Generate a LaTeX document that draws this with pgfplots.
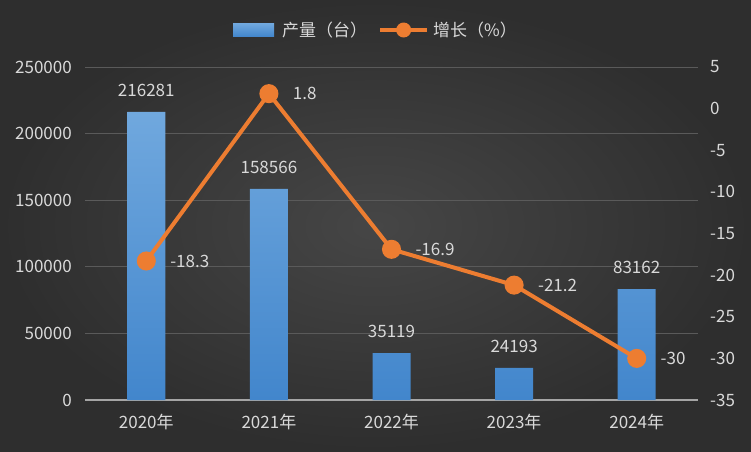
\documentclass[border=0pt]{standalone}
\usepackage{fontspec}
\setmainfont{Noto Sans CJK SC}
\usepackage{pgfplots}
\pgfplotsset{compat=1.18}
\definecolor{txt}{RGB}{217,217,217}
\definecolor{barT}{RGB}{112,168,222}
\definecolor{barB}{RGB}{66,134,204}
\definecolor{orng}{RGB}{237,125,49}
\definecolor{gridc}{RGB}{90,90,90}
\definecolor{axc}{RGB}{165,165,165}
\definecolor{bgin}{RGB}{70,70,70}
\definecolor{bgout}{RGB}{46,46,46}
\begin{document}
\fontsize{17pt}{20pt}\selectfont
\begin{tikzpicture}
\shade[inner color=bgin, outer color=bgout] (0pt,0pt) rectangle (751pt,451pt);
\useasboundingbox (0pt,0pt) rectangle (751pt,451pt);
\begin{axis}[
  at={(85pt,51pt)}, anchor=south west,
  scale only axis, width=613pt, height=333pt,
  xmin=-0.5, xmax=4.5, ymin=0, ymax=250000,
  axis x line*=bottom, axis y line*=left,
  x axis line style={axc, line width=1.5pt},
  y axis line style={draw=none},
  major tick length=0pt,
  xtick={0,1,2,3,4},
  xticklabels={2020年,2021年,2022年,2023年,2024年},
  xticklabel style={text=txt, inner sep=0pt, anchor=north, yshift=-14pt},
  ytick={0,50000,100000,150000,200000,250000},
  scaled y ticks=false,
  yticklabel style={text=txt, inner sep=0pt, anchor=east, xshift=-13pt,
    /pgf/number format/.cd, fixed, 1000 sep={}, assume math mode=true},
  ymajorgrids, grid style={gridc, line width=1pt},
  nodes near coords,
  every node near coord/.append style={text=txt, inner sep=0pt, anchor=south, yshift=15pt,
    /pgf/number format/.cd, fixed, 1000 sep={}, assume math mode=true},
]
\addplot[ybar, bar width=38pt, draw=none, top color=barT, bottom color=barB]
  coordinates {(0,216281) (1,158566) (2,35119) (3,24193) (4,83162)};
\end{axis}
\begin{axis}[
  at={(85pt,51pt)}, anchor=south west,
  scale only axis, width=613pt, height=333pt,
  xmin=-0.5, xmax=4.5, ymin=-35, ymax=5,
  axis x line=none, axis y line*=right,
  y axis line style={draw=none},
  major tick length=0pt,
  ytick={-35,-30,-25,-20,-15,-10,-5,0,5},
  yticklabel style={text=txt, inner sep=0pt, anchor=west, xshift=12pt,
    /pgf/number format/.cd, fixed, assume math mode=true},
  legend columns=2,
  legend style={draw=none, fill=none, inner sep=0pt, column sep=0pt,
    at={(0.2414,1.1111)}, anchor=west,
    font=\fontsize{17pt}{20pt}\selectfont,
    nodes={inner sep=0pt, text=txt, anchor=west}},
]
\addlegendimage{legend image code/.code={%
  \path[draw=none] (0pt,0pt) -- (49pt,0pt);
  \shade[draw=none, top color=barT, bottom color=barB] (0pt,-6.5pt) rectangle (41pt,6.5pt);}}
\addlegendentry{产量（台）}
\addlegendimage{legend image code/.code={%
  \path[draw=none] (-13pt,0pt) -- (53pt,0pt);
  \draw[orng, line width=4pt] (0pt,0pt) -- (47pt,0pt);
  \fill[orng, draw=none] (23.5pt,0pt) circle (7.5pt);}}
\addlegendentry{增长（\%）}
\addplot[orng, line width=4pt, mark=*, mark size=7.5pt,
  mark options={fill=orng, draw=none},
  nodes near coords,
  every node near coord/.append style={text=txt, inner sep=0pt, anchor=west, xshift=22pt,
    /pgf/number format/.cd, fixed, assume math mode=true}]
  coordinates {(0,-18.3) (1,1.8) (2,-16.9) (3,-21.2) (4,-30)};
\end{axis}
\end{tikzpicture}
\end{document}
